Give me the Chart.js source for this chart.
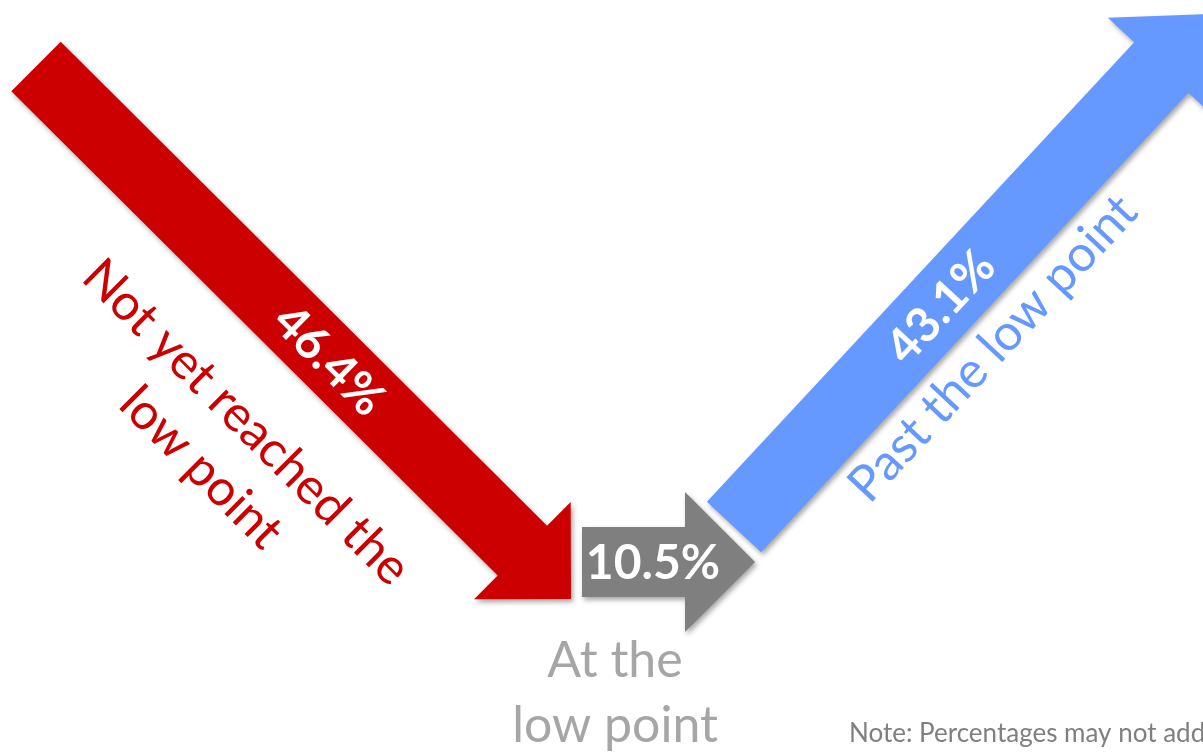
<!DOCTYPE html>
<html>
<head>
<meta charset="utf-8">
<script src="https://cdn.jsdelivr.net/npm/chart.js@4/dist/chart.umd.min.js"></script>
<style>
  html, body { margin: 0; padding: 0; background: #ffffff; overflow: hidden; }
  #wrap { width: 1203px; height: 752px; position: relative; }
</style>
</head>
<body>
<div id="wrap"><canvas id="c" width="1203" height="752"></canvas></div>
<script>
// ---- data ----
const categories = ['Not yet reached the low point', 'At the low point', 'Past the low point'];
const categoryLines = [['Not yet reached the', 'low point'], ['At the', 'low point'], ['Past the low point']];
const values = [46.4, 10.5, 43.1];
const noteText = 'Note: Percentages may not add to 100% due to rounding.';

// ---- layout (axis units: x 0..1203, y 0..752 top-down) ----
const arrowLayout = [
  { tail: [36, 66.5], tip: [571, 599], shaftW: 70, headHalf: 68.5, headLen: 68.6,
    color: '#CC0000', labelColor: '#CC0000', valueAlong: 415, labelAlong: 400, labelPerp: 104, lineH: 64 },
  { tail: [582, 562], tip: [755, 562], shaftW: 70, headHalf: 70, headLen: 70,
    color: '#7F7F7F', labelColor: '#A6A6A6', valueAlong: 71 },
  { tail: [734, 527], tip: [1211, 14], shaftW: 74, headHalf: 73, headLen: 73,
    color: '#6699FF', labelColor: '#6699FF', valueAlong: 302, labelAlong: 307, labelPerp: 68, lineH: 64 }
];
const midLabel = { x: 615, baselines: [677, 742] };
const noteLayout = { x: 849, baseline: 742 };

const FONT = 'Lato, "Open Sans", "DejaVu Sans", sans-serif';

function fmt(v) { return v.toFixed(1) + '%'; }

const arrowPlugin = {
  id: 'arrows',
  afterDatasetsDraw(chart) {
    const ctx = chart.ctx;
    const xs = chart.scales.x, ys = chart.scales.y;
    const px = p => ({ x: xs.getPixelForValue(p[0]), y: ys.getPixelForValue(p[1]) });

    const geo = arrowLayout.map(a => {
      const t = px(a.tail), p = px(a.tip);
      const dx = p.x - t.x, dy = p.y - t.y, L = Math.hypot(dx, dy);
      const ux = dx / L, uy = dy / L;
      return { t, p, ux, uy, nx: -uy, ny: ux, ang: Math.atan2(uy, ux) };
    });

    // arrows
    arrowLayout.forEach((a, i) => {
      const g = geo[i];
      const bx = g.p.x - g.ux * a.headLen, by = g.p.y - g.uy * a.headLen;
      const h = a.shaftW / 2;
      ctx.save();
      ctx.shadowColor = 'rgba(0,0,0,0.35)';
      ctx.shadowBlur = 5;
      ctx.shadowOffsetX = 2;
      ctx.shadowOffsetY = 3;
      ctx.fillStyle = a.color;
      ctx.beginPath();
      ctx.moveTo(g.t.x + g.nx * h, g.t.y + g.ny * h);
      ctx.lineTo(bx + g.nx * h, by + g.ny * h);
      ctx.lineTo(bx + g.nx * a.headHalf, by + g.ny * a.headHalf);
      ctx.lineTo(g.p.x, g.p.y);
      ctx.lineTo(bx - g.nx * a.headHalf, by - g.ny * a.headHalf);
      ctx.lineTo(bx - g.nx * h, by - g.ny * h);
      ctx.lineTo(g.t.x - g.nx * h, g.t.y - g.ny * h);
      ctx.closePath();
      ctx.fill();
      ctx.restore();
    });

    // value labels (white, bold, along arrows)
    arrowLayout.forEach((a, i) => {
      const g = geo[i];
      ctx.save();
      ctx.translate(g.t.x + g.ux * a.valueAlong, g.t.y + g.uy * a.valueAlong);
      ctx.rotate(g.ang);
      ctx.fillStyle = '#FFFFFF';
      ctx.font = 'bold 48px ' + FONT;
      ctx.textAlign = 'center';
      ctx.textBaseline = 'middle';
      ctx.fillText(fmt(values[i]), 0, 2);
      ctx.restore();
    });

    // rotated category labels
    [0, 2].forEach(i => {
      const a = arrowLayout[i], g = geo[i];
      const lines = categoryLines[i];
      ctx.save();
      ctx.translate(g.t.x + g.ux * a.labelAlong + g.nx * a.labelPerp,
                    g.t.y + g.uy * a.labelAlong + g.ny * a.labelPerp);
      ctx.rotate(g.ang);
      ctx.fillStyle = a.labelColor;
      ctx.font = '50px ' + FONT;
      ctx.textAlign = 'center';
      ctx.textBaseline = 'middle';
      lines.forEach((ln, k) => ctx.fillText(ln, 0, k * a.lineH));
      ctx.restore();
    });

    // middle label
    ctx.save();
    ctx.fillStyle = arrowLayout[1].labelColor;
    ctx.font = '50px ' + FONT;
    ctx.textAlign = 'center';
    ctx.textBaseline = 'alphabetic';
    categoryLines[1].forEach((ln, k) =>
      ctx.fillText(ln, xs.getPixelForValue(midLabel.x), ys.getPixelForValue(midLabel.baselines[k])));
    ctx.restore();

    // note
    ctx.save();
    ctx.fillStyle = '#7F7F7F';
    ctx.font = '26px ' + FONT;
    ctx.textAlign = 'left';
    ctx.textBaseline = 'alphabetic';
    ctx.fillText(noteText, xs.getPixelForValue(noteLayout.x), ys.getPixelForValue(noteLayout.baseline));
    ctx.restore();
  }
};

new Chart(document.getElementById('c'), {
  type: 'scatter',
  data: { labels: categories, datasets: [] },
  options: {
    responsive: false,
    animation: false,
    layout: { padding: 0 },
    plugins: { legend: { display: false }, tooltip: { enabled: false } },
    scales: {
      x: { type: 'linear', min: 0, max: 1203, display: false },
      y: { type: 'linear', min: 0, max: 752, reverse: true, display: false }
    }
  },
  plugins: [arrowPlugin]
});
</script>
</body>
</html>
